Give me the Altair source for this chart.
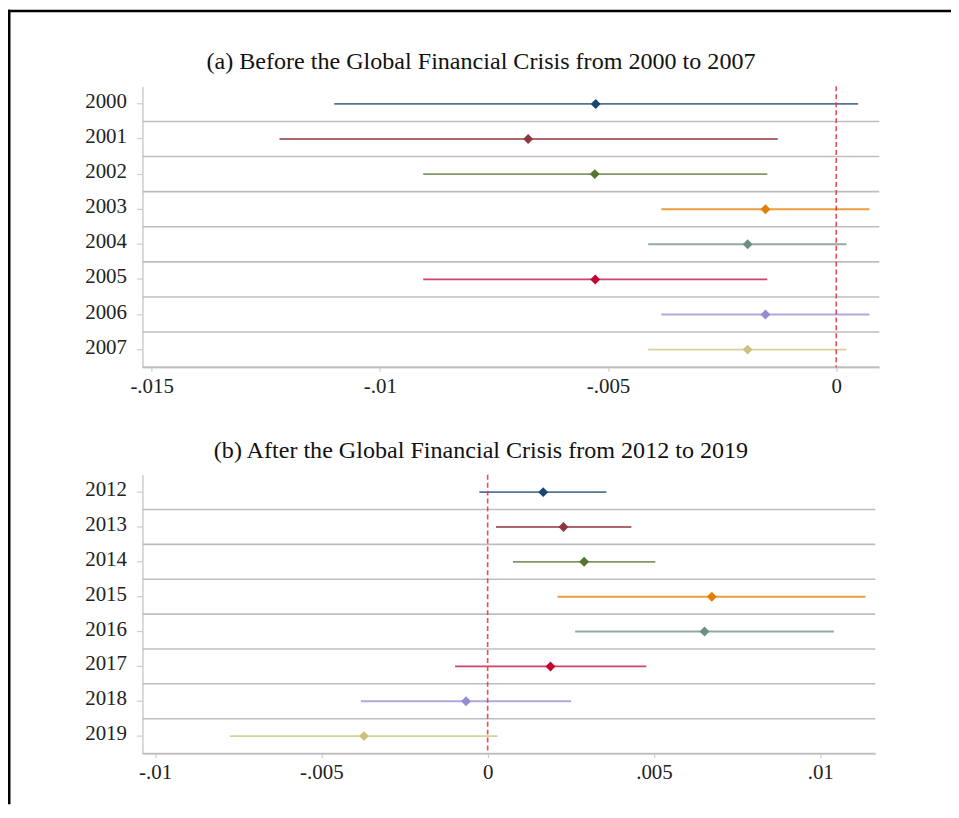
import altair as alt
import pandas as pd

# ---- data ----
YEARS_A = ["2000", "2001", "2002", "2003", "2004", "2005", "2006", "2007"]
EST_A = [-0.00527, -0.00675, -0.00529, -0.00155, -0.00194, -0.00528, -0.00155, -0.00194]
LO_A = [-0.01100, -0.01220, -0.00905, -0.00383, -0.00412, -0.00905, -0.00383, -0.00412]
HI_A = [0.00048, -0.00128, -0.00151, 0.00073, 0.000225, -0.00151, 0.00073, 0.000225]

YEARS_B = ["2012", "2013", "2014", "2015", "2016", "2017", "2018", "2019"]
EST_B = [0.00167, 0.00228, 0.00290, 0.00674, 0.00652, 0.00189, -0.00065, -0.00372]
LO_B = [-0.00025, 0.00025, 0.00076, 0.00210, 0.00263, -0.00098, -0.00381, -0.00775]
HI_B = [0.00357, 0.00432, 0.00504, 0.01136, 0.01041, 0.00477, 0.00251, 0.00030]

COLORS = ["#1a476f", "#90353b", "#55752f", "#e37e00", "#6e8e84", "#c10534", "#938dd2", "#cac27e"]

TICKS_A = [-0.015, -0.01, -0.005, 0]
TICK_LABELS_A = ["-.015", "-.01", "-.005", "0"]
TICKS_B = [-0.01, -0.005, 0, 0.005, 0.01]
TICK_LABELS_B = ["-.01", "-.005", "0", ".005", ".01"]

TITLE_A = "(a) Before the Global Financial Crisis from 2000 to 2007"
TITLE_B = "(b) After the Global Financial Crisis from 2012 to 2019"

FONT = "Liberation Serif"
GRID = "#bebebe"
AXIS = "#cccccc"


def label_expr(ticks, labels):
    expr = "''"
    for v, l in reversed(list(zip(ticks, labels))):
        expr = f"abs(datum.value - ({v})) < 1e-9 ? '{l}' : ({expr})"
    return expr


def panel(years, est, lo, hi, domain, ticks, labels, width, height, title, dx):
    df = pd.DataFrame({"year": years, "est": est, "lo": lo, "hi": hi})
    zero = pd.DataFrame({"zero": [0.0]})
    yscale = alt.Scale(type="band", domain=years, paddingInner=0, paddingOuter=0)
    xscale = alt.Scale(domain=domain, nice=False, zero=False)
    cscale = alt.Scale(domain=years, range=COLORS)

    y_axis = alt.Axis(
        title=None, domainColor=AXIS, domainWidth=1.5, tickColor=AXIS, tickWidth=1.2,
        tickSize=6, labelPadding=10, labelFont=FONT, labelFontSize=21, labelColor="#222222",
        labelBaseline="alphabetic", labelOffset=4, labelOverlap=False, grid=False,
    )
    x_axis = alt.Axis(
        title=None, values=ticks, labelExpr=label_expr(ticks, labels),
        domainColor=AXIS, domainWidth=1.5, tickColor=AXIS, tickWidth=1.2, tickSize=4,
        labelPadding=4, labelFont=FONT, labelFontSize=21, labelColor="#222222",
        labelFlush=False, labelOverlap=False, grid=False,
    )

    def Y(**kw):
        return alt.Y("year:N", scale=yscale, sort=years, axis=y_axis, title=None, **kw)

    def X(field):
        return alt.X(field, scale=xscale, axis=x_axis, title=None)

    base = alt.Chart(df)
    sep = base.mark_rule(color=GRID, strokeWidth=1.6).encode(y=Y(bandPosition=1))
    bars = base.mark_rule(strokeWidth=1.9, opacity=0.75).encode(
        x=X("lo:Q"), x2="hi:Q", y=Y(),
        color=alt.Color("year:N", scale=cscale, legend=None),
    )
    zline = alt.Chart(zero).mark_rule(
        color="#e8384d", strokeWidth=1.6, strokeDash=[5, 3], opacity=0.9
    ).encode(x=X("zero:Q"))
    pts = base.mark_point(shape="diamond", filled=True, size=100, opacity=1).encode(
        x=X("est:Q"), y=Y(),
        color=alt.Color("year:N", scale=cscale, legend=None),
    )
    return alt.layer(sep, bars, zline, pts).properties(
        width=width, height=height,
        title=alt.TitleParams(
            title, font=FONT, fontSize=24.2, fontWeight="normal", color="#111111",
            anchor="middle", frame="group", baseline="alphabetic", offset=15, dy=23, dx=dx,
        ),
    )


top = panel(YEARS_A, EST_A, LO_A, HI_A, [-0.015203, 0.000945], TICKS_A, TICK_LABELS_A,
            740, 282, TITLE_A, -30)
bottom = panel(YEARS_B, EST_B, LO_B, HI_B, [-0.01038, 0.011656], TICKS_B, TICK_LABELS_B,
               736, 280, TITLE_B, -28)

# decorative outer frame (figure border), drawn in its own 1x1 cell at the top-left
frame_src = alt.Chart(pd.DataFrame({"f": [0]}))
frame_left = frame_src.mark_rect(color="black").encode(
    x=alt.value(-135), x2=alt.value(-132.5), y=alt.value(0), y2=alt.value(798)
)
frame_top = frame_src.mark_rect(color="black").encode(
    x=alt.value(-135), x2=alt.value(812), y=alt.value(0), y2=alt.value(2.5)
)
frame = alt.layer(frame_left, frame_top).properties(width=1, height=1)

panels = alt.vconcat(top, bottom, spacing=108, bounds="flush")
chart = alt.vconcat(frame, panels, spacing=76, bounds="flush").properties(
    padding=0, background="white"
).configure_view(stroke=None)

chart.save("out.html", embed_options={"renderer": "svg", "actions": False})
